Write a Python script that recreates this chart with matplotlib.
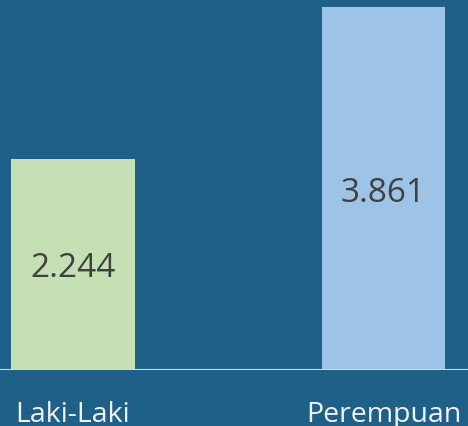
import matplotlib
matplotlib.use("Agg")
import matplotlib.pyplot as plt
from matplotlib.transforms import offset_copy

categories = ["Laki-Laki", "Perempuan"]
values = [2.244, 3.861]
value_labels = ["2.244", "3.861"]
bar_colors = ["#c5e0b4", "#9dc3e6"]
bg = "#1f6089"

plt.rcParams['font.family'] = ['Open Sans', 'DejaVu Sans']

W, H = 468, 426
fig = plt.figure(figsize=(W/100, H/100), dpi=100, facecolor=bg)
base_px = 56.5
ax = fig.add_axes([0, base_px/H, 1, 1 - base_px/H], facecolor=bg)

x = list(range(len(categories)))
spacing = 310.5
ax.bar(x, values, width=123/spacing, color=bar_colors, zorder=2)
ax.set_xlim(-73/spacing, 1 + (W-383.5)/spacing)
ax.set_ylim(0, 3.861*(H-base_px)/362.5)

tr = offset_copy(ax.transData, fig=fig, x=0, y=-9.6, units='points')
for xi, v, lab in zip(x, values, value_labels):
    ax.text(xi, v/2, lab, ha='center', va='baseline', fontsize=24, color='#404040',
            zorder=3, transform=tr)

for s in ax.spines.values():
    s.set_visible(False)
ax.axhline(0, color='#d9d9d9', lw=1.5, zorder=3)
ax.set_yticks([])
ax.set_xticks([])
for xi, c in zip(x, categories):
    fig.text((73 + xi*spacing)/W, 1 - 422/H, c, ha='center', va='baseline', fontsize=20.5,
             color='#f2f2f2')

fig.savefig("out.png", dpi=100, facecolor=bg)
